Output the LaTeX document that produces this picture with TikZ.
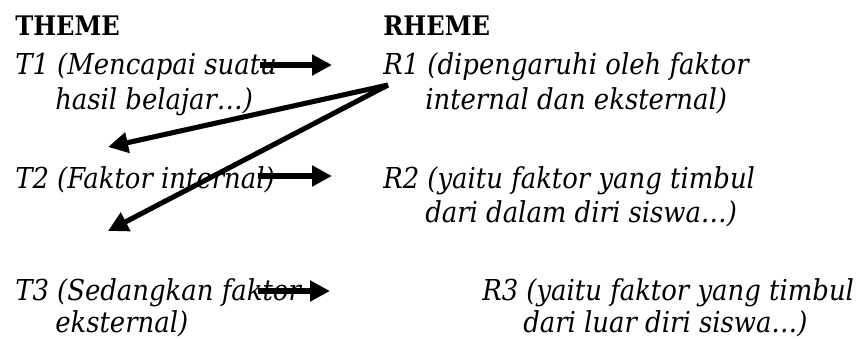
\documentclass[tikz,border=0pt]{standalone}
\usepackage{fontspec}
\setmainfont{DejaVu Serif Condensed}
\usetikzlibrary{arrows.meta}
\begin{document}
\begin{tikzpicture}[x=0.75pt,y=-0.75pt,
  txt/.style={anchor=base west,inner sep=0pt,font=\fontsize{21.6}{26}\selectfont\itshape},
  head/.style={anchor=base west,inner sep=0pt,font=\fontsize{20.2}{24}\selectfont\bfseries},
  arr/.style={-{Triangle[length=15pt,width=15pt]},line width=3.8pt}]
\useasboundingbox (0,0) rectangle (866,340);
% headings
\node[head] (theme) at (15,35) {THEME};
\node[head] (rheme) at (383,35) {RHEME};
% theme column
\node[txt] (t1a) at (15,74) {T1 (Mencapai suatu};
\node[txt] (t1b) at (55,109) {hasil belajar…)};
\node[txt] (t2a) at (15,188) {T2 (Faktor internal)};
\node[txt] (t3a) at (15,300) {T3 (Sedangkan faktor};
\node[txt] (t3b) at (55,332) {eksternal)};
% rheme column
\node[txt] (r1a) at (383,74) {R1 (dipengaruhi oleh faktor};
\node[txt] (r1b) at (425,109) {internal dan eksternal)};
\node[txt] (r2a) at (383,188) {R2 (yaitu faktor yang timbul};
\node[txt] (r2b) at (425,222) {dari dalam diri siswa…)};
\node[txt] (r3a) at (482,300) {R3 (yaitu faktor yang timbul};
\node[txt] (r3b) at (523,332) {dari luar diri siswa…)};
% arrow end points
\coordinate (a1s) at (260,65);
\coordinate (a1e) at (332,65);
\coordinate (a2s) at (258,176);
\coordinate (a2e) at (332,176);
\coordinate (a3s) at (258,291);
\coordinate (a3e) at (330,291);
\coordinate (rs) at (388,85);
\coordinate (t2e) at (108,147);
\coordinate (t3e) at (108,231);
% arrows
\draw[arr] (a1s) -- (a1e);
\draw[arr] (a2s) -- (a2e);
\draw[arr] (a3s) -- (a3e);
\draw[arr] (rs) -- (t2e);
\draw[arr] (rs) -- (t3e);
\end{tikzpicture}
\end{document}
